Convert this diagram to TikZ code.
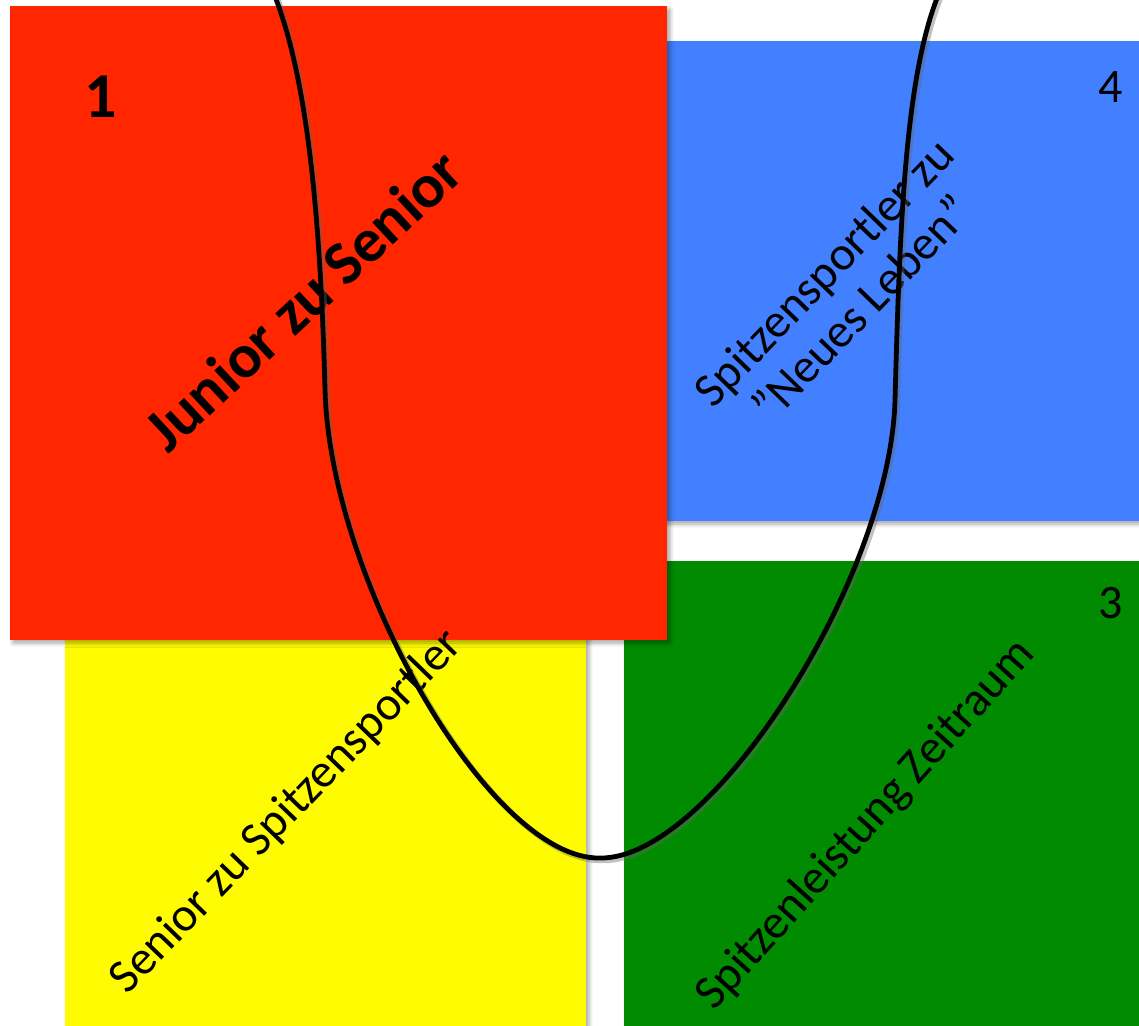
\documentclass[tikz,border=0pt]{standalone}
\usepackage{fontspec}
\setmainfont{Carlito}
\usetikzlibrary{shadows.blur,positioning}
\definecolor{boxred}{RGB}{255,38,0}
\definecolor{boxblue}{RGB}{66,128,255}
\definecolor{boxgreen}{RGB}{0,139,0}
\definecolor{boxyellow}{RGB}{255,251,0}
\tikzset{
    phase/.style={draw=none, inner sep=0pt, outer sep=0pt, anchor=north west,
        blur shadow={shadow xshift=1.5pt, shadow yshift=-1.5pt,
            shadow blur radius=2pt, shadow opacity=35}},
    phasetext/.style={font=\fontsize{24}{26}\selectfont, align=center, inner sep=0pt},
    phasenum/.style={font=\fontsize{24}{26}\selectfont, inner sep=0pt}
}
\newcommand{\careerpath}{(268,-20) .. controls (305,60) and (320,200) .. (325,390)
    .. controls (330,580) and (490,860) .. (600,858)
    .. controls (710,860) and (890,580) .. (895,400)
    .. controls (900,220) and (905,60) .. (945,-20)}

\begin{document}
\begin{tikzpicture}[x=0.5pt, y=-0.5pt]
    \useasboundingbox (0,0) rectangle (1139,1026);
    \clip (0,0) rectangle (1139,1026);
    % phases
    \node[phase, fill=boxyellow, minimum width=260.5pt, minimum height=250pt] (senior) at (65,600) {};
    \node[phase, fill=boxgreen, minimum width=260pt, minimum height=250pt] (leistung) at (624,561) {};
    \node[phase, fill=boxblue, minimum width=260pt, minimum height=240pt] (leben) at (620,41) {};
    \node[phase, fill=boxred, minimum width=328.5pt, minimum height=317pt] (junior) at (10,6) {};
    % labels
    \node[phasenum, font=\fontsize{32}{34}\selectfont\bfseries] (num1) at (101,97) {1};
    \node[phasenum] (num4) at (1111,87) {4};
    \node[phasenum] (num3) at (1111,603) {3};
    \node[phasetext, font=\fontsize{31}{34}\selectfont\bfseries, rotate=43] (juniortext) at (303,300) {Junior zu Senior};
    \node[phasetext, rotate=46] (seniortext) at (287,812) {Senior zu Spitzensportler};
    \node[phasetext, rotate=46] (lebentext) at (842,290) {Spitzensportler zu\\”Neues Leben”};
    \node[phasetext, rotate=48] (leistungtext) at (866,825) {Spitzenleistung Zeitraum};
    % career curve
    \draw[black!60, opacity=0.4, line width=2.8pt, xshift=1.2pt, yshift=-1.2pt] \careerpath;
    \draw[line width=2.4pt] \careerpath;
\end{tikzpicture}
\end{document}
